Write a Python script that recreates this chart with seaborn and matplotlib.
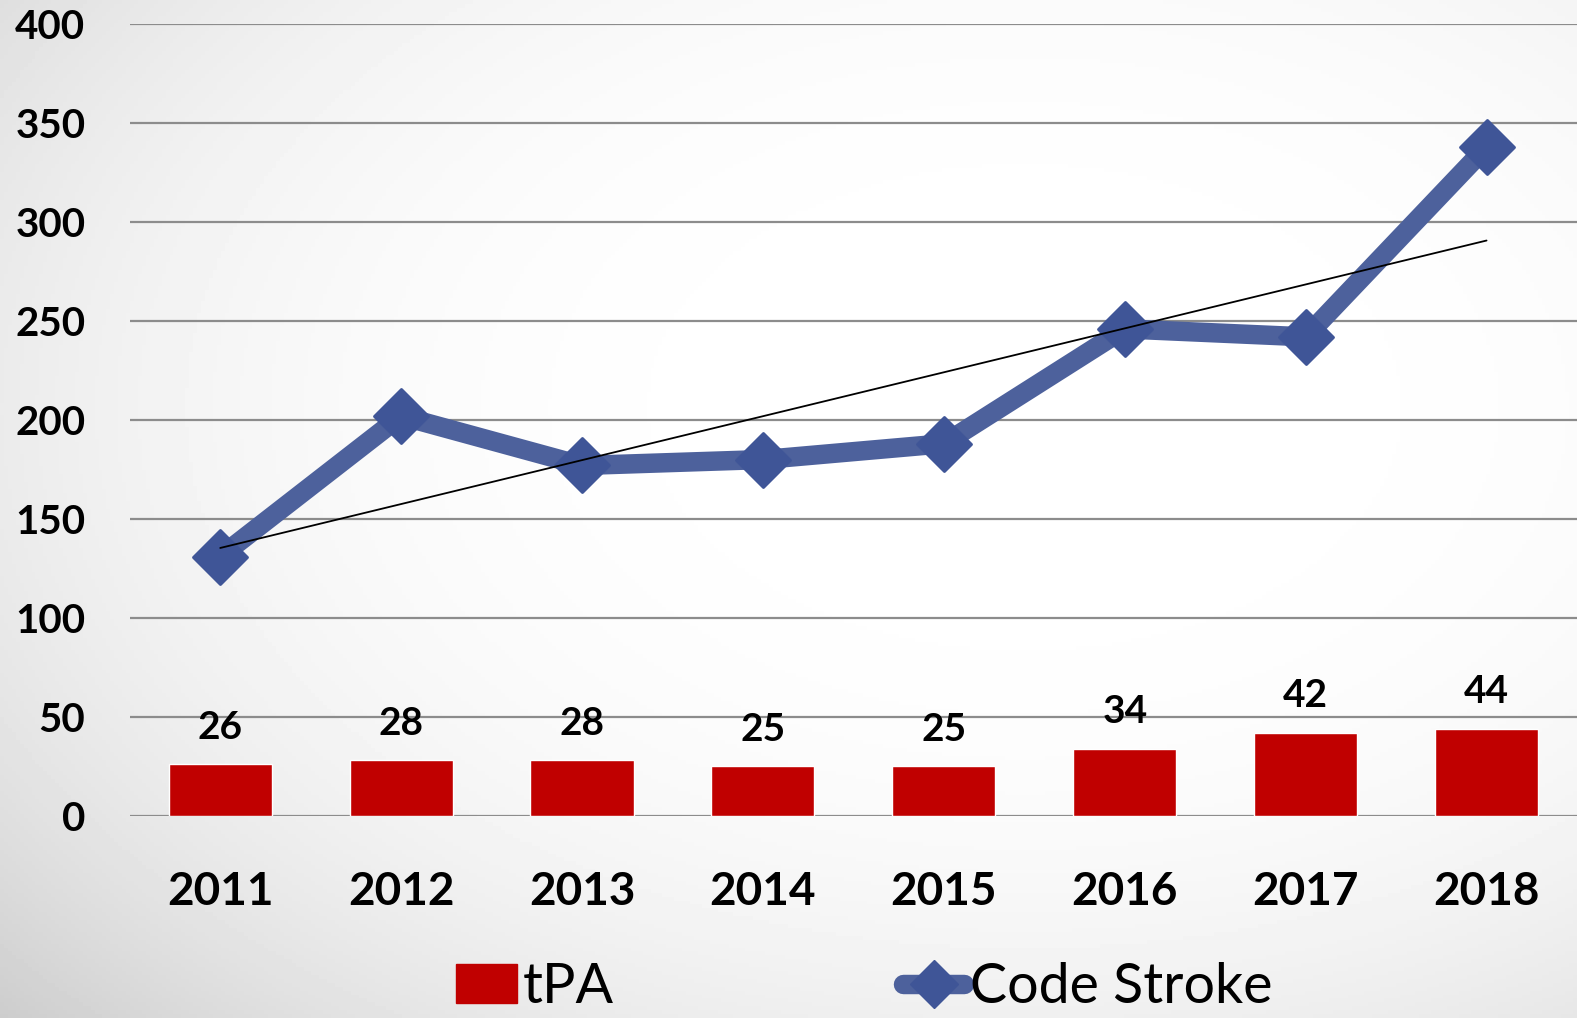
import numpy as np
import matplotlib

matplotlib.use("Agg")
import matplotlib.pyplot as plt
from matplotlib.lines import Line2D
from matplotlib.patches import Patch
import seaborn as sns

years = ["2011", "2012", "2013", "2014", "2015", "2016", "2017", "2018"]
tpa = [26, 28, 28, 25, 25, 34, 42, 44]
code_stroke = [131, 202, 177, 180, 188, 246, 242, 338]
y_ticks = [0, 50, 100, 150, 200, 250, 300, 350, 400]

bar_color = "#C00000"
line_color = "#4D619C"
marker_color = "#3F5597"

sns.set_style("white")
plt.rcParams["font.family"] = ["Lato", "DejaVu Sans"]
plt.rcParams["text.color"] = "black"
plt.rcParams["xtick.color"] = "black"
plt.rcParams["ytick.color"] = "black"

fig = plt.figure(figsize=(15.77, 10.18), dpi=100)

# soft gray gradient background, darker toward the left and bottom
bg = fig.add_axes([0, 0, 1, 1], zorder=-10)
gx, gy = np.meshgrid(np.linspace(0, 1, 400), np.linspace(0, 1, 260))
dist = np.sqrt(((gx - 0.65) / 0.75) ** 2 + ((gy - 0.6) / 0.75) ** 2)
shade = 1.0 - 0.12 * np.clip(dist, 0, 1.2) ** 3
bg.imshow(shade, cmap="gray", vmin=0, vmax=1, aspect="auto", extent=[0, 1, 0, 1],
          origin="lower")
bg.axis("off")

ax = fig.add_axes([0.0823, 0.1986, 0.9177, 0.7777])
ax.set_facecolor("none")

sns.barplot(x=years, y=tpa, ax=ax, color=bar_color, width=0.57, saturation=1, zorder=2)
ax.bar_label(ax.containers[0], fontsize=28, fontweight="bold", padding=14)

positions = np.arange(len(years))
ax.plot(positions, code_stroke, color=line_color, lw=14, solid_capstyle="butt", zorder=3)
sns.scatterplot(x=positions, y=code_stroke, ax=ax, marker="D", s=750,
                color=marker_color, edgecolor=marker_color, zorder=4)
sns.regplot(x=positions, y=code_stroke, ax=ax, scatter=False, ci=None, truncate=True,
            line_kws={"color": "black", "linewidth": 1.3, "zorder": 5})

ax.set_xlim(-0.5, 7.5)
ax.set_ylim(0, 400)
ax.set_yticks(y_ticks)
ax.set_xticks(positions)
ax.set_xticklabels(years)
ax.grid(axis="y", color="#8c8c8c", lw=1.6, zorder=0)
ax.set_axisbelow(True)
for s in ax.spines.values():
    s.set_visible(False)
ax.tick_params(axis="y", length=0, pad=32, labelsize=29)
ax.tick_params(axis="x", length=0, pad=40, labelsize=33)
for lbl in ax.get_yticklabels() + ax.get_xticklabels():
    lbl.set_fontweight("bold")
ax.set_xlabel("")
ax.set_ylabel("")

handles = [
    Patch(color=bar_color),
    Line2D([], [], color=line_color, lw=14, marker="D", markersize=24,
           markerfacecolor=marker_color, markeredgecolor=marker_color),
]
fig.legend(handles, ["tPA", "Code Stroke"], loc="center", bbox_to_anchor=(0.548, 0.03),
           ncol=2, frameon=False, fontsize=40, handlelength=1.1, handletextpad=0.1,
           columnspacing=5.2, borderpad=0.2)

fig.savefig("out.png", dpi=100)
